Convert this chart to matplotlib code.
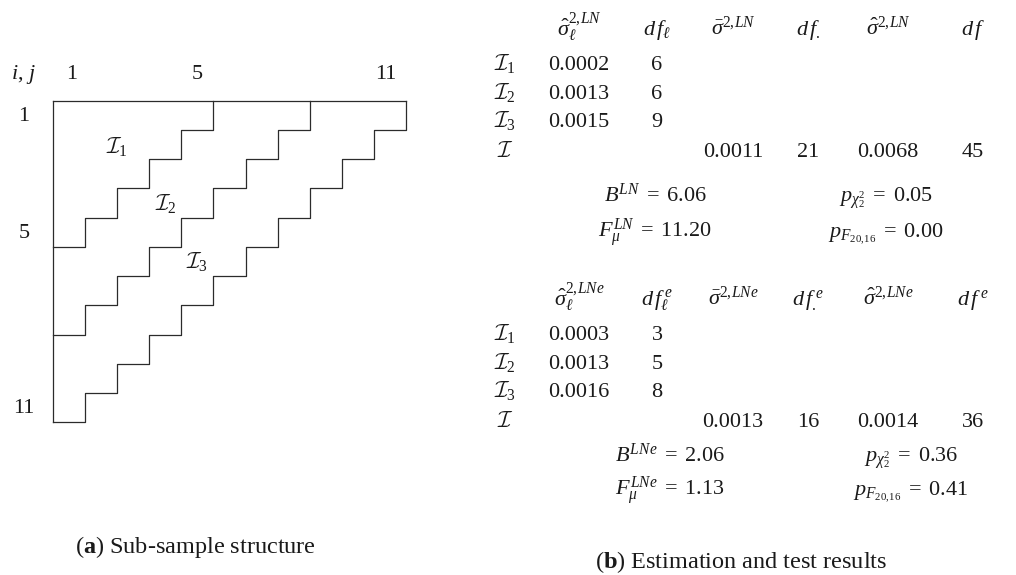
import matplotlib
matplotlib.use("Agg")
import matplotlib.pyplot as plt

plt.rcParams["font.family"] = "serif"
plt.rcParams["font.serif"] = ["Liberation Serif", "DejaVu Serif"]
plt.rcParams["mathtext.fontset"] = "custom"
plt.rcParams["mathtext.rm"] = "Liberation Serif"
plt.rcParams["mathtext.it"] = "Liberation Serif:italic"
plt.rcParams["mathtext.bf"] = "Liberation Serif:bold"
plt.rcParams["mathtext.cal"] = "cmsy10"

# sub-sample structure: 11x11 run-off triangle, split by diagonals i+j
n_cells = 11
split_diagonals = [5, 8, 11]
tick_idx = [1, 5, 11]
region_labels = [r"$\mathcal{I}_1$", r"$\mathcal{I}_2$", r"$\mathcal{I}_3$"]
region_pos = [(2.0, 1.55), (3.5, 3.5), (4.5, 5.5)]

# table values
row_names = [r"$\mathcal{I}_1$", r"$\mathcal{I}_2$", r"$\mathcal{I}_3$", r"$\mathcal{I}$"]
ln_sig_l = ["0.0002", "0.0013", "0.0015"]
ln_df_l = ["6", "6", "9"]
ln_total = ["0.0011", "21", "0.0068", "45"]
ln_tests = ["6.06", "11.20", "0.05", "0.00"]
lne_sig_l = ["0.0003", "0.0013", "0.0016"]
lne_df_l = ["3", "5", "8"]
lne_total = ["0.0013", "16", "0.0014", "36"]
lne_tests = ["2.06", "1.13", "0.36", "0.41"]

ln_head = [r"$\hat{\sigma}_\ell^{2,\!LN}$", r"$d\,f_\ell$", r"$\bar{\sigma}^{2,\!LN}$",
           r"$d\,f_{.}$", r"$\hat{\sigma}^{2,\!LN}$", r"$d\,f$"]
lne_head = [r"$\hat{\sigma}_\ell^{2,\!LNe}$", r"$d\,f_\ell^{\,e}$", r"$\bar{\sigma}^{2,\!LNe}$",
            r"$d\,f_{.}^{\,e}$", r"$\hat{\sigma}^{2,\!LNe}$", r"$d\,f^{\,e}$"]

fig = plt.figure(figsize=(10.16, 5.75), dpi=100)
fs = 16
tc = "#1a1a1a"

# left diagram
ax = fig.add_axes([53.3 / 1016, (575 - 422.3) / 575, 352.4 / 1016, 321.6 / 575])
ax.set_xlim(0, n_cells)
ax.set_ylim(n_cells, 0)
ax.axis("off")
lc = "#2b2b2b"
ax.plot([0, n_cells], [0, 0], color=lc, lw=0.9, clip_on=False)
ax.plot([0, 0], [0, n_cells], color=lc, lw=0.9, clip_on=False)
for k in split_diagonals:
    xs, ys = [k], [0]
    for s in range(1, k + 1):
        xs += [k - s + 1, k - s]
        ys += [s, s]
    ax.plot(xs[:-1] + [0], ys[:-1] + [k], color=lc, lw=0.9, clip_on=False)
for lab, (x, y) in zip(region_labels, region_pos):
    ax.text(x, y, lab, fontsize=fs, ha="center", va="center", color=tc)
for t in tick_idx:
    ax.text(t - 0.5 - 0.02 * (t - 5), -0.74, str(t), fontsize=fs, ha="center", va="baseline", color=tc)
    ax.text(-0.91, t - 0.31, str(t), fontsize=fs, ha="center", va="baseline", color=tc)
ax.text(-0.94, -0.74, r"$i,\,j$", fontsize=fs, ha="center", va="baseline", color=tc)

# right table, pixel coordinates
tx = fig.add_axes([0, 0, 1, 1])
tx.set_xlim(0, 1016)
tx.set_ylim(575, 0)
tx.axis("off")
col_x = [505, 579, 657, 733, 808, 888, 973]


def block(head, sig_l, df_l, total, tests, sup, y0, b_y, test_x):
    for x, h in zip(col_x[1:], head):
        tx.text(x, y0, h, fontsize=fs, ha="center", va="baseline", color=tc)
    ys = [y0 + 35, y0 + 64, y0 + 92, y0 + 122]
    for y, nm in zip(ys, row_names):
        tx.text(col_x[0], y, nm, fontsize=fs, ha="center", va="baseline", color=tc)
    for y, s, d in zip(ys, sig_l, df_l):
        tx.text(col_x[1], y, s, fontsize=fs, ha="center", va="baseline", color=tc)
        tx.text(col_x[2], y, d, fontsize=fs, ha="center", va="baseline", color=tc)
    for x, v in zip(col_x[3:], total):
        tx.text(x, ys[3], v, fontsize=fs, ha="center", va="baseline", color=tc)
    lines = [r"$B^{%s} \;=\; %s$" % (sup, tests[0]),
             r"$F_\mu^{%s} \;=\; %s$" % (sup, tests[1]),
             r"$p_{\chi^2_2} \;=\; %s$" % tests[2],
             r"$p_{F_{20,\!16}} \;=\; %s$" % tests[3]]
    tx.text(test_x[0], b_y[0], lines[0], fontsize=fs, ha="center", va="baseline", color=tc)
    tx.text(test_x[0], b_y[1], lines[1], fontsize=fs, ha="center", va="baseline", color=tc)
    tx.text(test_x[1], b_y[0], lines[2], fontsize=fs, ha="center", va="baseline", color=tc)
    tx.text(test_x[1], b_y[1], lines[3], fontsize=fs, ha="center", va="baseline", color=tc)


block(ln_head, ln_sig_l, ln_df_l, ln_total, ln_tests, "LN", 35, (202, 237), (655, 886))
block(lne_head, lne_sig_l, lne_df_l, lne_total, lne_tests, "LNe", 305, (462, 495), (670, 911))

cap_fs = 17.5
tx.text(75, 553, r"($\mathbf{a}$) Sub-sample structure", fontsize=cap_fs, ha="left", va="baseline", color=tc)
tx.text(595, 568, r"($\mathbf{b}$) Estimation and test results", fontsize=cap_fs, ha="left", va="baseline", color=tc)

fig.savefig("out.png", dpi=100)
